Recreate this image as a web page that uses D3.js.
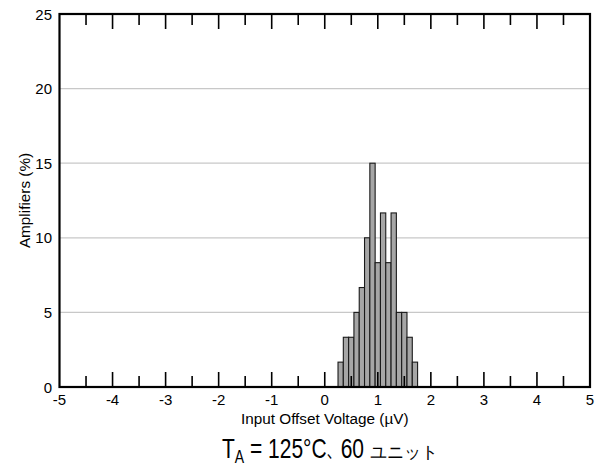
<!DOCTYPE html>
<html>
<head>
<meta charset="utf-8">
<script src="https://cdn.jsdelivr.net/npm/d3@7"></script>
<style>
  html, body { margin: 0; padding: 0; background: #fff; }
  svg { display: block; }
  text { font-family: Arial, "Liberation Sans", sans-serif; fill: #000; }
</style>
</head>
<body>
<svg id="chart" width="601" height="468"></svg>
<script>
// Histogram: input offset voltage distribution, 60 units at 125°C
const binStart = [0.25, 0.35, 0.45, 0.55, 0.65, 0.75, 0.85, 0.95, 1.05, 1.15, 1.25, 1.35, 1.45, 1.55, 1.65];
const binWidth = 0.1;
const unitCounts = [1, 2, 2, 3, 4, 6, 9, 5, 7, 5, 7, 3, 3, 2, 1];
const totalUnits = 60;
const percentValues = unitCounts.map(c => c / totalUnits * 100);

const xTicks = [-5, -4, -3, -2, -1, 0, 1, 2, 3, 4, 5];
const xMinorTicks = [-4.5, -3.5, -2.5, -1.5, -0.5, 0.5, 1.5, 2.5, 3.5, 4.5];
const yTicks = [0, 5, 10, 15, 20, 25];
const yGrid = [5, 10, 15, 20];

const xTitle = "Input Offset Voltage (µV)";
const yTitle = "Amplifiers (%)";

const plotL = 59.5, plotR = 590, plotT = 14, plotB = 387;

const svg = d3.select("#chart");
const x = d3.scaleLinear().domain([-5, 5]).range([plotL, plotR]);
const y = d3.scaleLinear().domain([0, 25]).range([plotB, plotT]);

// horizontal gridlines
svg.append("g").selectAll("line").data(yGrid).join("line")
  .attr("x1", plotL).attr("x2", plotR)
  .attr("y1", d => y(d)).attr("y2", d => y(d))
  .attr("stroke", "#c8c8c8").attr("stroke-width", 1.2);

// bars
svg.append("g").selectAll("rect").data(binStart).join("rect")
  .attr("x", d => x(d))
  .attr("width", d => x(d + binWidth) - x(d))
  .attr("y", (d, i) => y(percentValues[i]))
  .attr("height", (d, i) => y(0) - y(percentValues[i]))
  .attr("fill", "#a6a6a6")
  .attr("stroke", "#1a1a1a")
  .attr("stroke-width", 1.1);

// tick marks inside the frame (bottom and top edges)
const tickG = svg.append("g").attr("stroke", "#000").attr("stroke-width", 1.6);
const majorLen = 15, minorLen = 11;
const inner = xTicks.filter(d => d > -5 && d < 5);
tickG.selectAll(".mb").data(inner).join("line")
  .attr("x1", d => x(d)).attr("x2", d => x(d))
  .attr("y1", plotB).attr("y2", plotB - majorLen);
tickG.selectAll(".nb").data(xMinorTicks).join("line")
  .attr("x1", d => x(d)).attr("x2", d => x(d))
  .attr("y1", plotB).attr("y2", plotB - minorLen);
tickG.selectAll(".mt").data(inner).join("line")
  .attr("x1", d => x(d)).attr("x2", d => x(d))
  .attr("y1", plotT).attr("y2", plotT + majorLen);
tickG.selectAll(".nt").data(xMinorTicks).join("line")
  .attr("x1", d => x(d)).attr("x2", d => x(d))
  .attr("y1", plotT).attr("y2", plotT + minorLen);

// frame
svg.append("rect")
  .attr("x", plotL).attr("y", plotT)
  .attr("width", plotR - plotL).attr("height", plotB - plotT)
  .attr("fill", "none").attr("stroke", "#000").attr("stroke-width", 2.2);

// x tick labels
svg.append("g").selectAll("text").data(xTicks).join("text")
  .attr("x", d => x(d)).attr("y", plotB + 18)
  .attr("text-anchor", "middle")
  .attr("font-size", 15)
  .text(d => d);

// y tick labels
svg.append("g").selectAll("text").data(yTicks).join("text")
  .attr("x", plotL - 7.5).attr("y", d => y(d) + 5.5)
  .attr("text-anchor", "end")
  .attr("font-size", 15)
  .text(d => d);

// axis titles
svg.append("text")
  .attr("x", (plotL + plotR) / 2).attr("y", 424)
  .attr("text-anchor", "middle").attr("font-size", 15.3)
  .text(xTitle);

svg.append("text")
  .attr("transform", `translate(30,${(plotT + plotB) / 2}) rotate(-90)`)
  .attr("text-anchor", "middle").attr("font-size", 15.3)
  .text(yTitle);

// condition caption: tall Latin part, then the Japanese word
const capX = 222, capY = 458;
const cap = svg.append("text")
  .attr("transform", `translate(${capX},${capY}) scale(1,1.3)`)
  .attr("font-size", 21);
cap.append("tspan").text("T");
cap.append("tspan").attr("font-size", 14).attr("dy", 4).text("A");
cap.append("tspan").attr("dy", -4).text(" = 125°C");
cap.append("tspan").attr("font-size", 14)
  .attr("font-family", "'Noto Sans CJK JP', sans-serif").text("、");
cap.append("tspan").text("60");
const capW = cap.node().getComputedTextLength();

svg.append("text")
  .attr("x", capX + capW + 6).attr("y", capY)
  .attr("font-family", "'Noto Sans CJK JP', sans-serif")
  .attr("font-weight", 300).attr("font-size", 17)
  .text("ユニット");
</script>
</body>
</html>
